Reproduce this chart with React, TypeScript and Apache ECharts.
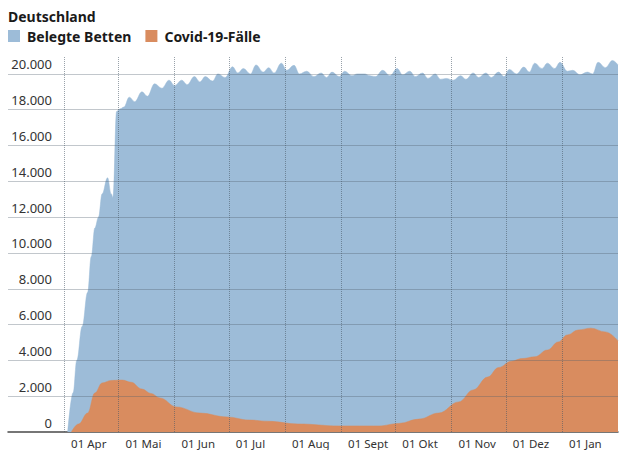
import React, { useEffect, useRef } from "react";
import * as echarts from "echarts";

const titleText = "Deutschland";
const seriesNames = ["Belegte Betten", "Covid-19-Fälle"];
const startDate = "2020-03-01";
const endDate = "2021-02-01";
const monthNames: Record<string, string> = {
  "01": "Jan", "02": "Feb", "03": "Mär", "04": "Apr", "05": "Mai", "06": "Jun",
  "07": "Jul", "08": "Aug", "09": "Sept", "10": "Okt", "11": "Nov", "12": "Dez",
};
const yTicks = [2000, 4000, 6000, 8000, 10000, 12000, 14000, 16000, 18000, 20000];

const bedsData: [string, number][] = [
  ["2020-04-03", 0], ["2020-04-06", 2200], ["2020-04-08", 4000], ["2020-04-11", 5900],
  ["2020-04-14", 7800], ["2020-04-16", 9800], ["2020-04-18", 11400], ["2020-04-20", 12000],
  ["2020-04-22", 13300], ["2020-04-25", 14200], ["2020-04-27", 13300], ["2020-04-28", 13100],
  ["2020-04-30", 17900], ["2020-05-02", 18050], ["2020-05-04", 18150], ["2020-05-07", 18700],
  ["2020-05-10", 18450], ["2020-05-14", 19000], ["2020-05-17", 18750], ["2020-05-21", 19450],
  ["2020-05-25", 19200], ["2020-05-29", 19650], ["2020-06-01", 19350], ["2020-06-05", 19650],
  ["2020-06-08", 19400], ["2020-06-12", 19850], ["2020-06-15", 19550], ["2020-06-18", 19850],
  ["2020-06-22", 19600], ["2020-06-25", 20000], ["2020-06-29", 19800], ["2020-07-03", 20400],
  ["2020-07-06", 20050], ["2020-07-09", 20300], ["2020-07-13", 20000], ["2020-07-16", 20500],
  ["2020-07-20", 20100], ["2020-07-23", 20350], ["2020-07-26", 20050], ["2020-07-30", 20600],
  ["2020-08-02", 20200], ["2020-08-06", 20480], ["2020-08-09", 20000], ["2020-08-13", 20150],
  ["2020-08-17", 19850], ["2020-08-21", 20050], ["2020-08-24", 19800], ["2020-08-27", 20100],
  ["2020-08-31", 19850], ["2020-09-03", 20150], ["2020-09-07", 19900], ["2020-09-10", 20000],
  ["2020-09-14", 20000], ["2020-09-17", 19900], ["2020-09-20", 19850], ["2020-09-24", 20200],
  ["2020-09-28", 19900], ["2020-10-02", 20300], ["2020-10-05", 19950], ["2020-10-09", 20150],
  ["2020-10-12", 19850], ["2020-10-16", 20050], ["2020-10-19", 19750], ["2020-10-23", 20000],
  ["2020-10-26", 19700], ["2020-10-29", 19750], ["2020-11-02", 19650], ["2020-11-06", 19900],
  ["2020-11-09", 19700], ["2020-11-13", 20050], ["2020-11-16", 19800], ["2020-11-20", 20050],
  ["2020-11-23", 19800], ["2020-11-27", 20100], ["2020-11-30", 19850], ["2020-12-03", 20250],
  ["2020-12-07", 20000], ["2020-12-11", 20380], ["2020-12-14", 20100], ["2020-12-17", 20600],
  ["2020-12-21", 20300], ["2020-12-24", 20600], ["2020-12-28", 20300], ["2020-12-31", 20650],
  ["2021-01-04", 20150], ["2021-01-07", 20200], ["2021-01-11", 19950], ["2021-01-15", 20100],
  ["2021-01-18", 20000], ["2021-01-21", 20650], ["2021-01-25", 20350], ["2021-01-29", 20750],
  ["2021-02-01", 20500],
];

const covidData: [string, number][] = [
  ["2020-04-05", 0], ["2020-04-09", 450], ["2020-04-14", 1060], ["2020-04-18", 2180],
  ["2020-04-22", 2740], ["2020-04-27", 2880], ["2020-05-03", 2900], ["2020-05-08", 2780],
  ["2020-05-14", 2400], ["2020-05-19", 2150], ["2020-05-24", 1900], ["2020-06-02", 1400],
  ["2020-06-15", 1060], ["2020-06-30", 840], ["2020-07-12", 670], ["2020-07-23", 600],
  ["2020-08-08", 450], ["2020-08-31", 340], ["2020-09-22", 340], ["2020-10-03", 480],
  ["2020-10-14", 720], ["2020-10-25", 1060], ["2020-11-05", 1680], ["2020-11-13", 2350],
  ["2020-11-21", 3070], ["2020-11-27", 3600], ["2020-12-04", 3950], ["2020-12-10", 4100],
  ["2020-12-17", 4200], ["2020-12-24", 4580], ["2020-12-30", 5030], ["2021-01-04", 5420],
  ["2021-01-10", 5700], ["2021-01-17", 5800], ["2021-01-25", 5590], ["2021-02-01", 5100],
];

const colors = ["#9dbcd8", "#d98c5f"];

function buildDays(): string[] {
  const out: string[] = [];
  const d = new Date(startDate + "T00:00:00Z");
  const end = new Date(endDate + "T00:00:00Z");
  while (d.getTime() <= end.getTime()) {
    out.push(d.toISOString().slice(0, 10));
    d.setUTCDate(d.getUTCDate() + 1);
  }
  return out;
}

export default function App() {
  const ref = useRef<HTMLDivElement>(null);
  useEffect(() => {
    if (!ref.current) return;
    const chart = echarts.init(ref.current, undefined, { renderer: "svg" });
    const days = buildDays();
    const isMonthLine = (v: string) => v.endsWith("-01") && v !== startDate && v !== endDate;
    const monthStarts = days.filter(isMonthLine);
    const font = "'Noto Sans', sans-serif";
    chart.setOption({
      animation: false,
      title: {
        text: titleText,
        left: 8,
        top: 9,
        padding: 0,
        textStyle: { fontFamily: font, fontSize: 14, fontWeight: "bold", color: "#1a1a1a" },
      },
      legend: {
        left: 8,
        top: 29,
        padding: 0,
        itemWidth: 12,
        itemHeight: 12,
        itemGap: 14,
        icon: "rect",
        data: seriesNames,
        textStyle: { fontFamily: font, fontSize: 14, fontWeight: "bold", color: "#1a1a1a", padding: [0, 0, 0, 2] },
      },
      grid: { left: 8, right: 3, top: 56, bottom: 18 },
      xAxis: {
        type: "category",
        data: days,
        boundaryGap: false,
        axisTick: { show: false },
        axisLine: { show: true, lineStyle: { color: "#4a4a4a", width: 1.5 } },
        splitLine: { show: false },
        axisLabel: {
          interval: (_i: number, v: string) => isMonthLine(v),
          formatter: (v: string) => (isMonthLine(v) ? "01 " + monthNames[v.slice(5, 7)] : ""),
          align: "left",
          padding: [0, 0, 0, 7],
          margin: 5,
          lineHeight: 12,
          fontFamily: font,
          fontSize: 11.5,
          color: "#333",
        },
      },
      yAxis: {
        type: "value",
        min: 0,
        max: 21000,
        interval: 2000,
        axisLine: { show: false },
        axisTick: { show: false },
        splitLine: { show: false },
        axisLabel: {
          inside: true,
          margin: 44,
          align: "right",
          verticalAlign: "bottom",
          padding: [0, 0, 3, 0],
          showMaxLabel: false,
          formatter: (v: number) => (v > 20000 ? "" : v === 0 ? "0" : (v / 1000).toFixed(3)),
          fontFamily: font,
          fontSize: 13,
          color: "#333",
        },
      },
      series: [
        {
          name: seriesNames[0],
          type: "line",
          data: bedsData,
          smooth: 0.4,
          smoothMonotone: "x",
          symbol: "none",
          z: 2,
          lineStyle: { width: 0.5, color: colors[0] },
          itemStyle: { color: colors[0] },
          areaStyle: { color: colors[0], opacity: 1 },
        },
        {
          name: seriesNames[1],
          type: "line",
          data: covidData,
          smooth: 0.4,
          smoothMonotone: "x",
          symbol: "none",
          z: 3,
          lineStyle: { width: 0.5, color: colors[1] },
          itemStyle: { color: colors[1] },
          areaStyle: { color: colors[1], opacity: 1 },
          markLine: {
            silent: true,
            symbol: "none",
            label: { show: false },
            z: 5,
            data: [
              ...yTicks.map((v) => ({
                yAxis: v,
                lineStyle: { type: "solid", color: "rgba(80,95,110,0.35)", width: 1 },
              })),
              ...monthStarts.map((d) => ({
                xAxis: d,
                lineStyle: { type: "dotted", color: "rgba(70,85,100,0.55)", width: 1 },
              })),
            ],
          },
        },
      ],
    });
    return () => chart.dispose();
  }, []);
  return (
    <div
      ref={ref}
      style={{ position: "fixed", left: 0, top: 0, width: 621, height: 450, background: "#fff" }}
    />
  );
}
